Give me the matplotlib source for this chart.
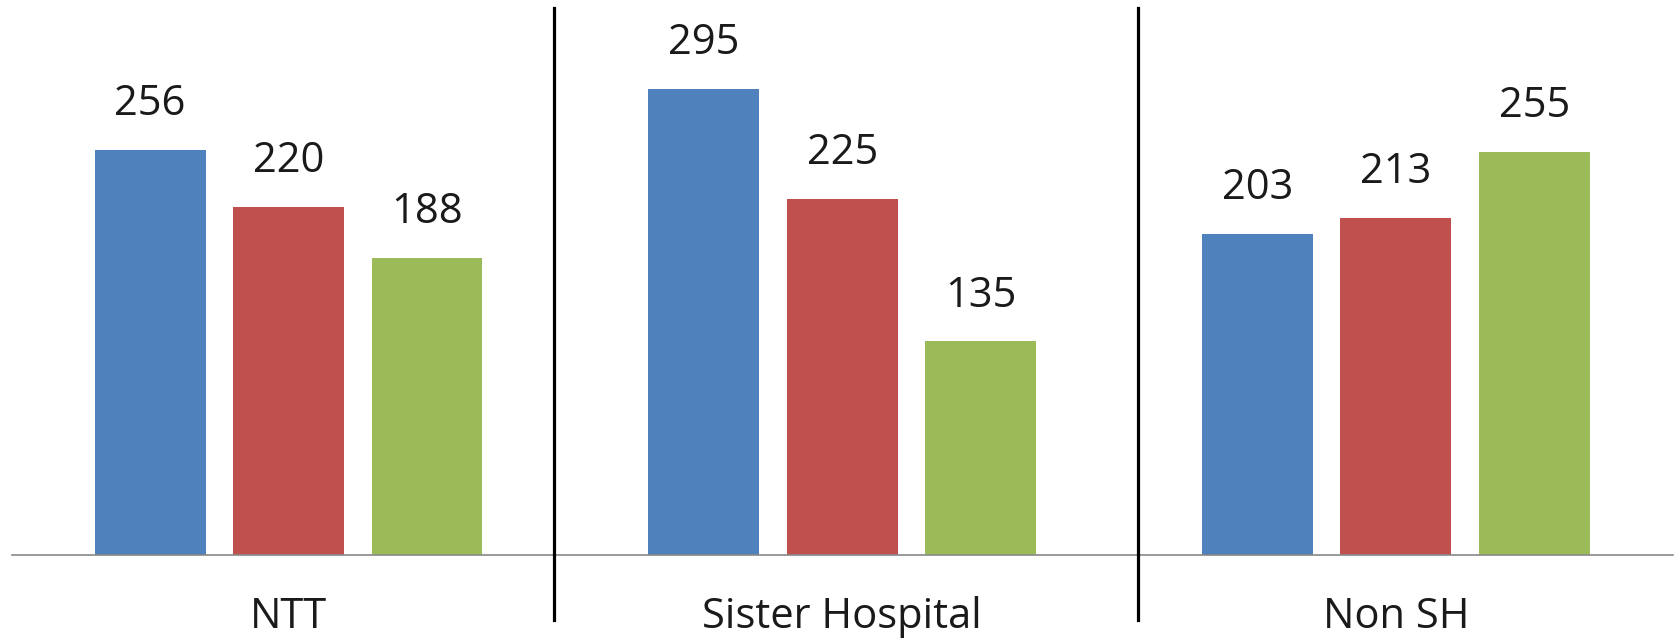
import matplotlib
matplotlib.use("Agg")
import matplotlib.pyplot as plt
import numpy as np

# Counts per site for three series
categories = ["NTT", "Sister Hospital", "Non SH"]
series_a = [256, 295, 203]
series_b = [220, 225, 213]
series_c = [188, 135, 255]

colors = ["#4F81BD", "#C0504D", "#9BBB59"]

plt.rcParams["font.family"] = ["Open Sans", "DejaVu Sans"]

fig = plt.figure(figsize=(16.76, 6.40), dpi=100)
ax = fig.add_axes([0.007, 0.1331, 0.991, 0.8669])

x = np.arange(len(categories))
width = 0.2
offsets = [-0.25, 0.0, 0.25]

for series, off, col in zip([series_a, series_b, series_c], offsets, colors):
    bars = ax.bar(x + off, series, width=width, color=col, zorder=2)
    for rect, val in zip(bars, series):
        ax.annotate(f"{val}", xy=(rect.get_x() + rect.get_width() / 2, val),
                    xytext=(0, 25), textcoords="offset points",
                    ha="center", va="baseline", fontsize=30, color="#1a1a1a")

ax.set_xlim(-0.5, len(categories) - 0.5)
ax.set_ylim(0, 351)

# Group separators
for sx in (0.479, 1.535):
    ax.plot([sx, sx], [-41, 346], color="black", lw=2.3, clip_on=False, zorder=3)

for side in ("top", "left", "right"):
    ax.spines[side].set_visible(False)
ax.spines["bottom"].set_color("#888888")
ax.spines["bottom"].set_linewidth(1.2)

ax.set_yticks([])
ax.set_xticks(x)
ax.set_xticklabels(categories, fontsize=30, color="#1a1a1a")
ax.tick_params(axis="x", length=0, pad=30)

fig.savefig("out.png", dpi=100)
